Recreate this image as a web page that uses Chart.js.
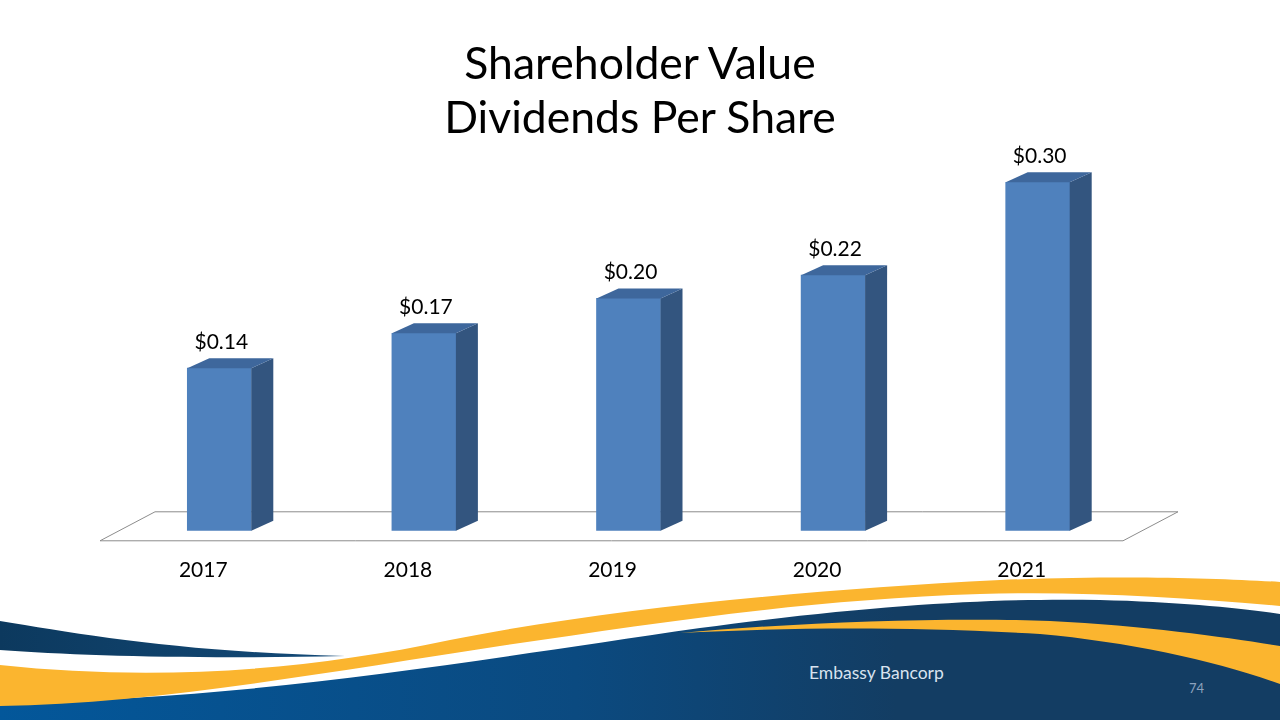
<!DOCTYPE html>
<html>
<head>
<meta charset="utf-8">
<script src="https://cdn.jsdelivr.net/npm/chart.js@4/dist/chart.umd.min.js"></script>
<style>
  html, body { margin: 0; padding: 0; background: #fff; }
  #slide { position: relative; width: 1280px; height: 720px; overflow: hidden; }
  #fondo { position: absolute; left: 0; top: 0; }
  #graficoBarras { position: absolute; left: 0; top: 0; }
  #titulo {
    position: absolute; left: 0; top: 35px; width: 1280px;
    text-align: center; font-family: Lato, "Open Sans", sans-serif;
    font-size: 44.5px; line-height: 54px; color: #000;
  }
</style>
</head>
<body>
<div id="slide">
  <svg id="fondo" width="1280" height="720" viewBox="0 0 1280 720">
    <defs>
      <linearGradient id="azul" x1="0" y1="0" x2="1" y2="0">
        <stop offset="0" stop-color="#03579a"/>
        <stop offset="0.45" stop-color="#0b4a80"/>
        <stop offset="0.7" stop-color="#133d63"/>
        <stop offset="1" stop-color="#133d63"/>
      </linearGradient>
      <linearGradient id="navy" x1="0" y1="0" x2="1" y2="0">
        <stop offset="0" stop-color="#0c395e"/>
        <stop offset="1" stop-color="#134a78"/>
      </linearGradient>
    </defs>
    <!-- banda azul inferior -->
    <path d="M0,702 C 250,700 450,664 700,628 C 880,604 1000,598 1100,600 C 1180,602 1240,608 1280,614 L1280,720 L0,720 Z" fill="url(#azul)"/>
    <!-- banda amarilla principal -->
    <path d="M0,665 C 150,681 300,672 450,640 C 600,610 800,590 1000,580 C 1120,575 1220,578 1280,582 L1280,606 C 1180,597 1080,591 980,594 C 800,600 650,624 500,646 C 330,672 150,704 0,706 Z" fill="#fbb52f"/>
    <!-- segunda banda amarilla -->
    <path d="M680,633 C 800,622 950,617 1050,621 C 1150,626 1230,638 1280,646 L1280,684 C 1220,662 1130,642 1040,634 C 900,626 780,628 680,633 Z" fill="#fbb52f"/>
    <!-- trazo azul oscuro izquierdo -->
    <path d="M0,621 C 80,634 180,652 345,656 C 200,659 80,656 0,650 Z" fill="url(#navy)"/>
    <text x="809" y="679" font-family="Lato, 'Open Sans', sans-serif" font-size="17.5" fill="#d9e3ef">Embassy Bancorp</text>
    <text x="1189" y="693" font-family="Lato, 'Open Sans', sans-serif" font-size="13" fill="#8da2bd">74</text>
  </svg>
  <canvas id="graficoBarras" width="1280" height="720"></canvas>
  <div id="titulo"></div>
</div>
<script>
// Datos del gráfico
var anios = ['2017', '2018', '2019', '2020', '2021'];
var dividendos = [0.14, 0.17, 0.20, 0.22, 0.30];
var titulo = ['Shareholder Value', 'Dividends Per Share'];

var colorFrente = '#4f81bd';
var colorLado = '#33557f';
var colorTapa = '#3e679c';

// Profundidad 3D de las barras y del piso
var profX = 22, profY = -10;

document.getElementById('titulo').innerHTML = titulo.join('<br>');

var pluginPiso = {
   id: 'piso',
   beforeDatasetsDraw: function (chart) {
      var ctx = chart.ctx;
      var a = chart.chartArea;
      ctx.save();
      ctx.beginPath();
      ctx.moveTo(a.left - 17, a.bottom + 10);
      ctx.lineTo(a.right - 17, a.bottom + 10);
      ctx.lineTo(a.right + 38, a.bottom - 19);
      ctx.lineTo(a.left + 38, a.bottom - 19);
      ctx.closePath();
      ctx.fillStyle = '#ffffff';
      ctx.fill();
      ctx.strokeStyle = '#8c8c8c';
      ctx.lineWidth = 1;
      ctx.stroke();
      ctx.restore();
   }
};

var pluginBarras3D = {
   id: 'barras3d',
   afterDatasetsDraw: function (chart) {
      var ctx = chart.ctx;
      var meta = chart.getDatasetMeta(0);
      ctx.save();
      meta.data.forEach(function (barra, i) {
         var p = barra.getProps(['x', 'y', 'base', 'width'], true);
         var izq = p.x - p.width / 2;
         var der = p.x + p.width / 2;
         // lado
         ctx.beginPath();
         ctx.moveTo(der, p.y);
         ctx.lineTo(der + profX, p.y + profY);
         ctx.lineTo(der + profX, p.base + profY);
         ctx.lineTo(der, p.base);
         ctx.closePath();
         ctx.fillStyle = colorLado;
         ctx.fill();
         // tapa
         ctx.beginPath();
         ctx.moveTo(izq, p.y);
         ctx.lineTo(izq + profX, p.y + profY);
         ctx.lineTo(der + profX, p.y + profY);
         ctx.lineTo(der, p.y);
         ctx.closePath();
         ctx.fillStyle = colorTapa;
         ctx.fill();
         // etiqueta de valor
         ctx.fillStyle = '#000000';
         ctx.font = '21px Lato, "Open Sans", sans-serif';
         ctx.textAlign = 'center';
         ctx.textBaseline = 'middle';
         ctx.fillText('$' + dividendos[i].toFixed(2), p.x + 2, p.y - 26);
      });
      ctx.restore();
   }
};

var ctxBarras = document.getElementById('graficoBarras').getContext('2d');

var miGrafico = new Chart(ctxBarras, {
   type: 'bar',
   data: {
      labels: anios,
      datasets: [{
         label: 'Dividends Per Share',
         data: dividendos,
         backgroundColor: colorFrente,
         borderWidth: 0,
         barThickness: 64
      }]
   },
   options: {
      responsive: false,
      animation: false,
      layout: {
         padding: { left: 117, right: 140, top: 159, bottom: 110 }
      },
      scales: {
         x: {
            grid: { display: false, drawTicks: false },
            border: { display: false },
            ticks: {
               color: '#000000',
               font: { family: 'Lato, "Open Sans", sans-serif', size: 21 },
               padding: 27,
               labelOffset: -16
            }
         },
         y: {
            display: false,
            min: 0,
            max: 0.32
         }
      },
      plugins: {
         legend: { display: false },
         tooltip: { enabled: false },
         title: { display: false }
      }
   },
   plugins: [pluginPiso, pluginBarras3D]
});
</script>
</body>
</html>
